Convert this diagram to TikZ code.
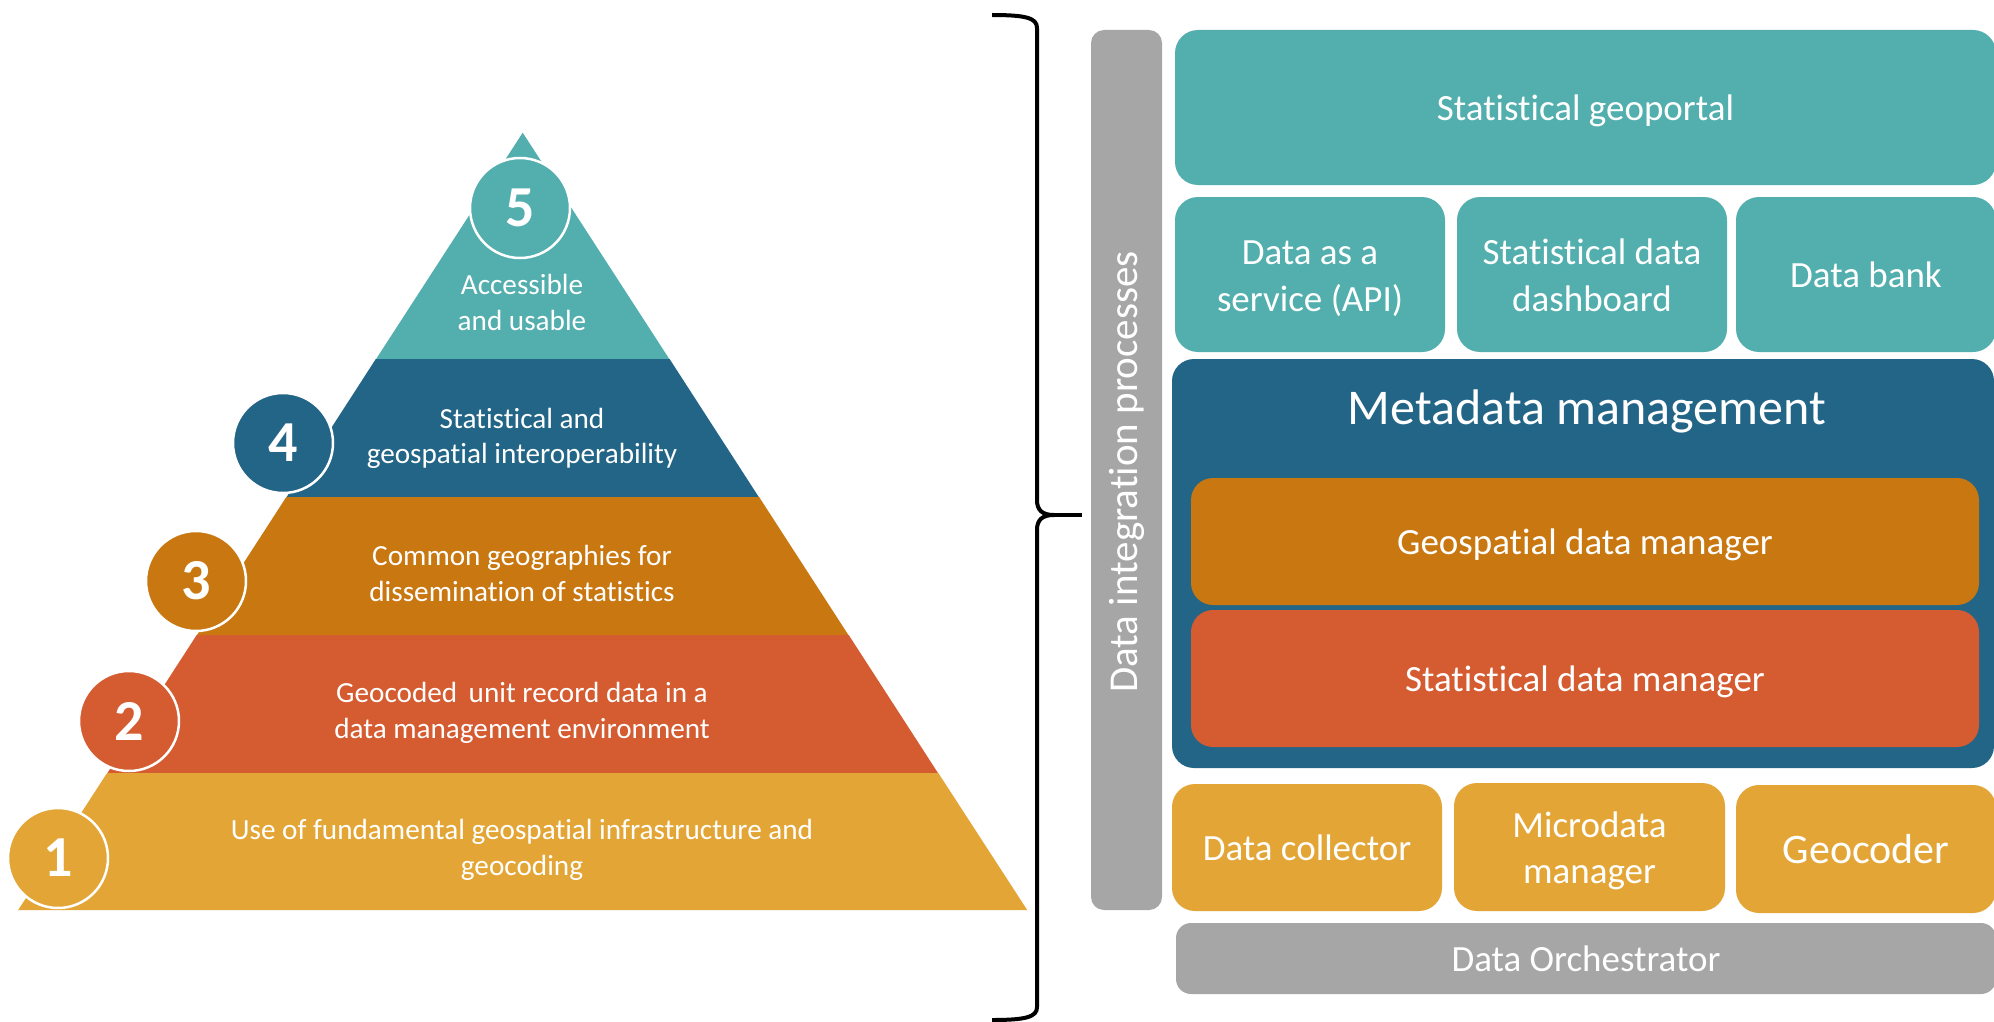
\documentclass[tikz,border=0pt]{standalone}
\usepackage{fontspec}
\setmainfont{Carlito}[Ligatures={NoCommon}]
\definecolor{cteal}{HTML}{53AEAE}
\definecolor{cblue}{HTML}{236586}
\definecolor{cdorange}{HTML}{C97711}
\definecolor{cred}{HTML}{D55B30}
\definecolor{cyellow}{HTML}{E3A636}
\definecolor{cgray}{HTML}{A6A6A6}
\newcommand\myfs[2]{\fontsize{#1}{#2}\selectfont}
\newcommand\mystrut{\rule[-0.21\baselineskip]{0pt}{\baselineskip}}
\begin{document}
\begin{tikzpicture}[x=1pt,y=-1pt,
  band/.style={fill=#1},
  num/.style={circle, fill=#1, draw=white, line width=2.5pt, minimum size=100pt, inner sep=0pt,
    text=white, font=\bfseries\myfs{58}{70}},
  ptext/.style={text=white, align=center, inner sep=0pt, font=\myfs{29.2}{35.5}},
  rbox/.style={rectangle, rounded corners=23pt, fill=#1, text=white, align=center, inner sep=0pt,
    font=\myfs{37}{46.5}},
  brace/.style={draw=black, line width=4pt, line cap=butt, line join=round}
]
\useasboundingbox (0,0) rectangle (1994,1022);
\clip (0,0) rectangle (1994,1022);

% ---------- pyramid bands ----------
\fill[band=cteal]   (522.7,132.7) -- (669.6,359.5) -- (375.8,359.5) -- cycle;
\fill[band=cblue]   (375.8,359) -- (669.6,359) -- (759.1,497.5) -- (286.3,497.5) -- cycle;
\fill[band=cdorange](286.3,497) -- (759.1,497) -- (848.7,635.5) -- (196.7,635.5) -- cycle;
\fill[band=cred]    (196.7,635) -- (848.7,635) -- (938.3,773.5) -- (107.1,773.5) -- cycle;
\fill[band=cyellow] (107.1,773) -- (938.3,773) -- (1027.2,910) -- (18.2,910) -- cycle;

% ---------- numbered circles ----------
\node[num=cteal]    (n5) at (520,208) {5};
\node[num=cblue]    (n4) at (283,443) {4};
\node[num=cdorange] (n3) at (196,581) {3};
\node[num=cred]     (n2) at (129,721) {2};
\node[num=cyellow]  (n1) at (58,858)  {1};

% ---------- pyramid texts ----------
\node[ptext] (t5) at (522,302) {\mystrut Accessible\\\mystrut and usable};
\node[ptext] (t4) at (522,435.5) {\mystrut Statistical and\\\mystrut geospatial interoperability};
\node[ptext] (t3) at (522,573) {\mystrut Common geographies for\\\mystrut dissemination of statistics};
\node[ptext] (t2) at (522,710) {\mystrut Geocoded\, unit record data in a\\\mystrut data management environment};
\node[ptext] (t1) at (522,847) {\mystrut Use of fundamental geospatial infrastructure and\\\mystrut geocoding};

% ---------- brace ----------
\draw[brace] (992,15) .. controls (1026,15) and (1037,18) .. (1037,28) -- (1037,500)
  .. controls (1037,510) and (1042,515) .. (1054,515);
\draw[brace] (992,1020) .. controls (1026,1020) and (1037,1017) .. (1037,1007) -- (1037,530)
  .. controls (1037,520) and (1042,515) .. (1054,515);
\draw[brace] (1050,515) -- (1082,515);

% ---------- architecture ----------
\node[rbox=cgray, rounded corners=13pt, minimum width=71pt, minimum height=880pt] (dip) at (1126.5,470) {};
\node[text=white, rotate=90, inner sep=0pt, font=\myfs{41}{49}] (diptext) at (1127,472) {Data integration processes};

\node[rbox=cteal, minimum width=821pt, minimum height=155pt] (portal) at (1585.5,107.5) {\mystrut Statistical geoportal};
\node[rbox=cteal, minimum width=270pt, minimum height=155pt] (api) at (1310,274.5) {\mystrut Data as a\\\mystrut service (API)};
\node[rbox=cteal, minimum width=270pt, minimum height=155pt] (dash) at (1592,274.5) {\mystrut Statistical data\\\mystrut dashboard};
\node[rbox=cteal, minimum width=260pt, minimum height=155pt] (bank) at (1866,274.5) {\mystrut Data bank};

\node[rbox=cblue, rounded corners=22pt, minimum width=822pt, minimum height=409pt] (meta) at (1583,563.5) {};
\node[text=white, inner sep=0pt, font=\myfs{50}{60}] (metatitle) at (1587,407) {\mystrut Metadata management};
\node[rbox=cdorange, rounded corners=22pt, minimum width=788pt, minimum height=127pt] (geo) at (1585,541.5) {\mystrut Geospatial data manager};
\node[rbox=cred, rounded corners=22pt, minimum width=788pt, minimum height=137pt] (sdm) at (1585,678.5) {\mystrut Statistical data manager};

\node[rbox=cyellow, minimum width=270pt, minimum height=127pt] (coll) at (1307,847.5) {\mystrut Data collector};
\node[rbox=cyellow, minimum width=271pt, minimum height=128pt] (micro) at (1589.5,847) {\mystrut Microdata\\\mystrut manager};
\node[rbox=cyellow, minimum width=260pt, minimum height=128pt, font=\myfs{42}{50}] (geocoder) at (1866,849) {\mystrut Geocoder};

\node[rbox=cgray, rounded corners=15pt, minimum width=820pt, minimum height=71pt] (orch) at (1586,958.5) {\mystrut Data Orchestrator};
\end{tikzpicture}
\end{document}
